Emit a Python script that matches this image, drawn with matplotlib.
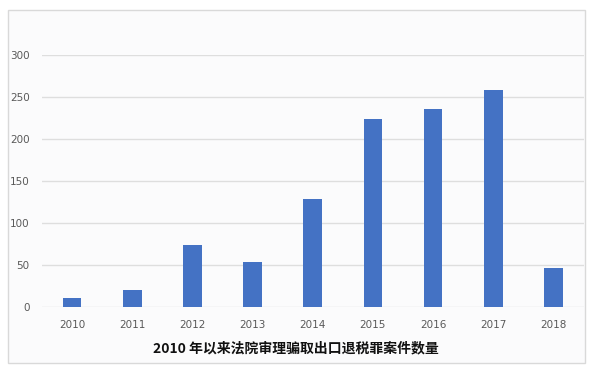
import matplotlib

matplotlib.use("Agg")
import matplotlib.pyplot as plt
from matplotlib.patches import Rectangle

years = ["2010", "2011", "2012", "2013", "2014", "2015", "2016", "2017", "2018"]
cases = [11, 20, 74, 53, 128, 224, 236, 258, 46]
y_ticks = [0, 50, 100, 150, 200, 250, 300]
title = "2010 年以来法院审理骗取出口退税罪案件数量"

W, H = 600, 369
fig = plt.figure(figsize=(W / 100, H / 100), dpi=100)
fig.patch.set_facecolor("white")

# chart-area frame (Excel style), kept behind the axes
fig.patches.append(Rectangle((8 / W, 1 - 363 / H), 577 / W, 353 / H,
                             transform=fig.transFigure, facecolor="#fbfbfc",
                             edgecolor="#d9d9d9", linewidth=1.0, zorder=-5))

ax = fig.add_axes([42 / W, 62 / H, 541.5 / W, 252 / H])
ax.set_zorder(2)
ax.set_facecolor("none")
x = range(len(years))
ax.bar(x, cases, width=0.31, color="#4472c4", zorder=3)

ax.set_xlim(-0.5, len(years) - 0.5)
ax.set_ylim(0, 300)
ax.set_yticks(y_ticks)
ax.set_xticks(list(x))
ax.set_xticklabels(years)
ax.yaxis.grid(True, color="#dedede", linewidth=1.0, zorder=0)
ax.set_axisbelow(True)
for s in ax.spines.values():
    s.set_visible(False)
ax.tick_params(axis="both", length=0, labelsize=7.5, labelcolor="#595959")
ax.tick_params(axis="x", pad=9)
ax.tick_params(axis="y", pad=9)

fig.text(296 / W, 1 - 348 / H, title, ha="center", va="center",
         fontsize=10, fontweight="bold", color="#111111",
         family=["Noto Sans CJK SC", "DejaVu Sans"], zorder=3)

fig.savefig("out.png", dpi=100)
